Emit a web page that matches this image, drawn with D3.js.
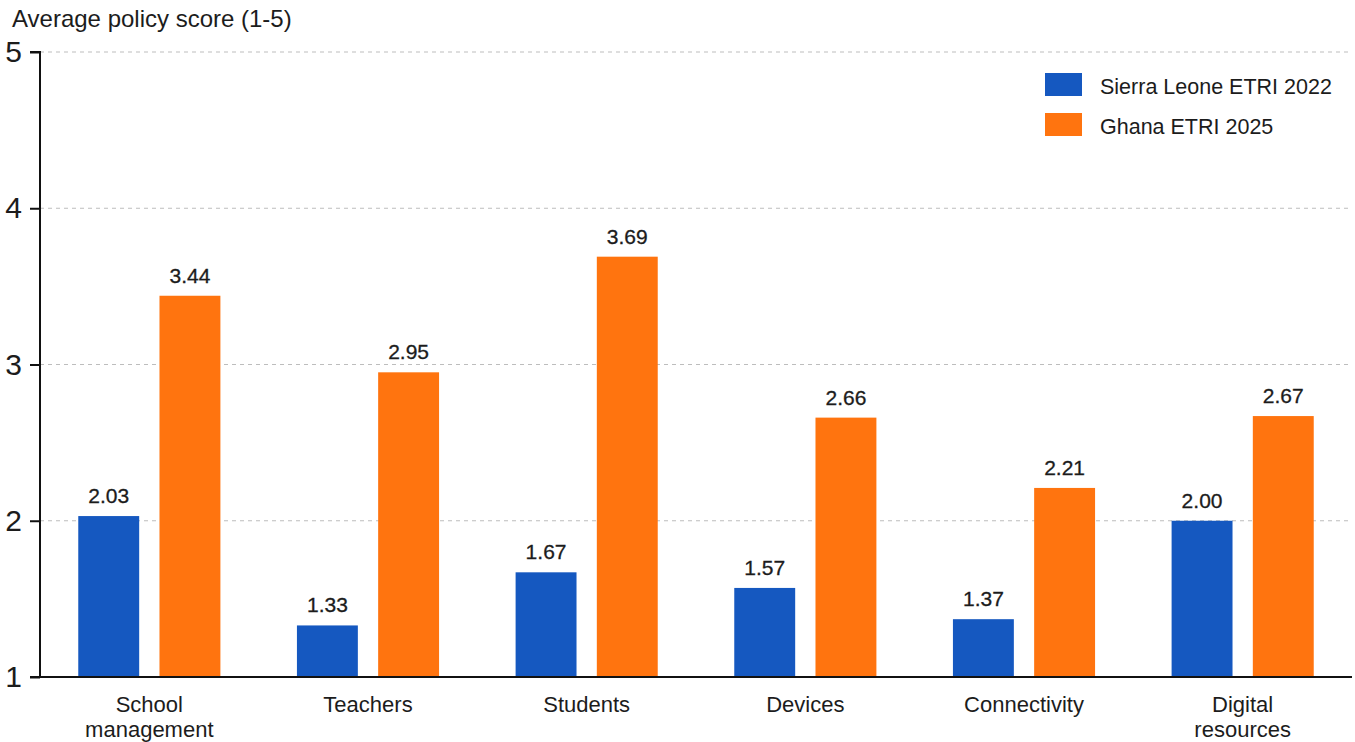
<!DOCTYPE html>
<html>
<head>
<meta charset="utf-8">
<script src="https://cdn.jsdelivr.net/npm/d3@7"></script>
<style>
  html, body { margin: 0; padding: 0; background: #ffffff; }
  svg { display: block; font-family: "Liberation Sans", Arial, Helvetica, sans-serif; }
</style>
</head>
<body>
<svg id="chart" width="1355" height="742"></svg>
<script>
// Policy pillars and average scores (scale 1-5)
const categories = [["School", "management"], ["Teachers"], ["Students"], ["Devices"], ["Connectivity"], ["Digital", "resources"]];
const seriesNames = ["Sierra Leone ETRI 2022", "Ghana ETRI 2025"];
const sierraLeone2022 = [2.03, 1.33, 1.67, 1.57, 1.37, 2.00];
const ghana2025 = [3.44, 2.95, 3.69, 2.66, 2.21, 2.67];
const yTicks = [1, 2, 3, 4, 5];
const colors = ["#1558c0", "#ff740f"];

(function () {
  const svg = d3.select("#chart");
  const plotLeft = 40, plotRight = 1352, plotTop = 52, plotBottom = 677;
  const ink = "#1c1c1c";

  const catKeys = categories.map(c => c.join(" "));
  const rows = catKeys.map((k, i) => ({ key: k, lines: categories[i], values: [sierraLeone2022[i], ghana2025[i]] }));

  const x0 = d3.scaleBand().domain(catKeys).range([plotLeft, plotRight]).paddingInner(0.35).paddingOuter(0.175);
  const x1 = d3.scaleBand().domain(seriesNames).range([0, x0.bandwidth()]).paddingInner(0.25);
  const y = d3.scaleLinear().domain([1, 5]).range([plotBottom, plotTop]);

  // dashed gridlines
  svg.append("g").selectAll("line")
    .data(yTicks.filter(t => t > 1))
    .join("line")
    .attr("x1", plotLeft).attr("x2", plotRight)
    .attr("y1", d => y(d)).attr("y2", d => y(d))
    .attr("stroke", "#bdbdbd").attr("stroke-width", 1)
    .attr("stroke-dasharray", "4,4");

  // bars
  const groups = svg.append("g").selectAll("g")
    .data(rows).join("g")
    .attr("transform", d => `translate(${x0(d.key)},0)`);

  const cells = d => d.values.map((v, j) => ({ v, s: seriesNames[j], j }));

  groups.selectAll("rect")
    .data(cells)
    .join("rect")
    .attr("x", d => x1(d.s))
    .attr("width", x1.bandwidth())
    .attr("y", d => y(d.v))
    .attr("height", d => y(1) - y(d.v))
    .attr("fill", d => colors[d.j]);

  groups.selectAll("text.val")
    .data(cells)
    .join("text")
    .attr("class", "val")
    .attr("x", d => x1(d.s) + x1.bandwidth() / 2)
    .attr("y", d => y(d.v) - 13)
    .attr("text-anchor", "middle")
    .attr("font-size", 21)
    .attr("fill", ink)
    .attr("stroke", ink)
    .attr("stroke-width", 0.3)
    .text(d => d.v.toFixed(2));

  // y axis
  const yAxis = svg.append("g")
    .attr("transform", `translate(${plotLeft},0)`)
    .call(d3.axisLeft(y).tickValues(yTicks).tickFormat(d3.format("d")).tickSize(10).tickPadding(8));
  yAxis.select(".domain").attr("stroke", "#111").attr("stroke-width", 2).attr("d", `M-10,${plotTop}H0V${plotBottom}`);
  yAxis.selectAll(".tick line").attr("stroke", "#111").attr("stroke-width", 2);
  yAxis.selectAll(".tick text")
    .attr("font-size", 30)
    .attr("fill", ink)
    .attr("font-family", "'Liberation Sans', Arial, sans-serif");

  // x axis baseline
  const xAxis = svg.append("g")
    .attr("transform", `translate(0,${plotBottom})`)
    .call(d3.axisBottom(x0).tickSize(0).tickFormat(""));
  xAxis.select(".domain").attr("stroke", "#111").attr("stroke-width", 2).attr("d", `M${plotLeft - 10},0H${plotRight}`);

  // category labels (one or two lines)
  const xl = svg.append("g").selectAll("text")
    .data(rows).join("text")
    .attr("x", d => x0(d.key) + x0.bandwidth() / 2)
    .attr("y", 712)
    .attr("text-anchor", "middle")
    .attr("font-size", 22)
    .attr("fill", ink);
  xl.each(function (d) {
    const t = d3.select(this);
    const cx = x0(d.key) + x0.bandwidth() / 2;
    t.selectAll("tspan")
      .data(d.lines)
      .join("tspan")
      .attr("x", cx)
      .attr("dy", (s, i) => i === 0 ? 0 : 25)
      .text(s => s);
  });

  // axis title
  svg.append("text")
    .attr("x", 12).attr("y", 27)
    .attr("font-size", 24)
    .attr("fill", ink)
    .text("Average policy score (1-5)");

  // legend
  const legend = svg.append("g").attr("transform", "translate(1045,73)");
  const li = legend.selectAll("g").data(seriesNames).join("g")
    .attr("transform", (d, i) => `translate(0,${i * 40})`);
  li.append("rect").attr("width", 37).attr("height", 23).attr("fill", (d, i) => colors[i]);
  li.append("text").attr("x", 55).attr("y", 21).attr("font-size", 21.5).attr("fill", ink).text(d => d);
})();
</script>
</body>
</html>
